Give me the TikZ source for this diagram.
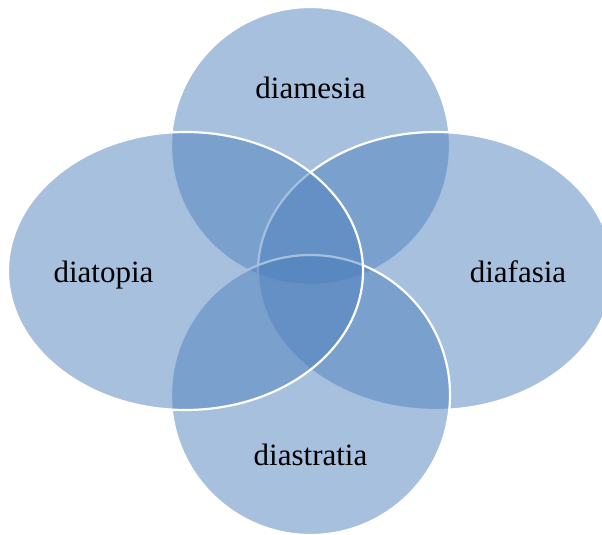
\documentclass[tikz,border=0pt]{standalone}
\usepackage{fontspec}
\setmainfont{Liberation Serif}
\definecolor{cvenn}{HTML}{4F81BD}
\tikzset{
  venn/.style={fill=cvenn, fill opacity=0.5, draw=white, draw opacity=1, line width=2.2pt},
  setname/.style={font=\fontsize{31}{36}\selectfont, text=black, anchor=base, inner sep=0pt},
}

\begin{document}
\begin{tikzpicture}[x=1pt, y=-1pt]
  \useasboundingbox (0,0) rectangle (602,535);
  \clip (0,0) rectangle (602,535);
  % the four sets, back to front: top, right, bottom, left
  \filldraw[venn] (310.5,146) ellipse [x radius=139.5, y radius=139];
  \filldraw[venn] (435.5,271) ellipse [x radius=177.5, y radius=139];
  \filldraw[venn] (310.5,395) ellipse [x radius=139.5, y radius=140];
  \filldraw[venn] (185.5,271) ellipse [x radius=177.5, y radius=139];
  % names
  \node[setname] (diamesia) at (310.5,98) {diamesia};
  \node[setname] (diatopia) at (103.5,282) {diatopia};
  \node[setname] (diafasia) at (518,282) {diafasia};
  \node[setname] (diastratia) at (310.5,465) {diastratia};
\end{tikzpicture}
\end{document}
